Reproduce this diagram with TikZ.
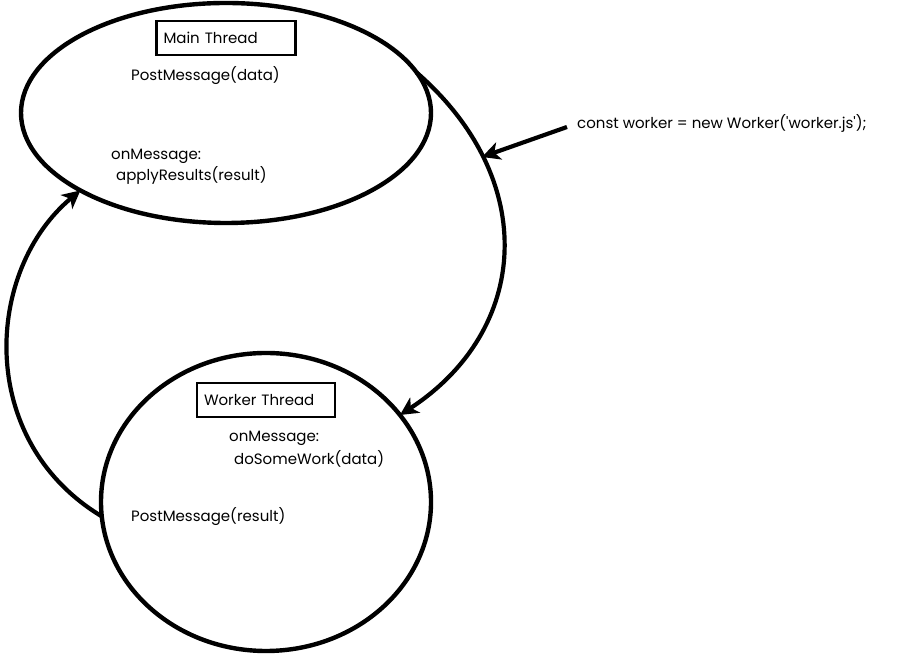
\documentclass[tikz,border=0pt]{standalone}
\usepackage{fontspec}
\setmainfont{Poppins}[Ligatures=TeXOff]
\usetikzlibrary{shapes.geometric,arrows.meta}
\begin{document}
\begin{tikzpicture}[x=1pt,y=1pt,
  bubble/.style={draw,ellipse,line width=4.4pt,inner sep=0pt,outer sep=0pt},
  titlebox/.style={draw,rectangle,line width=2.6pt,inner sep=0pt,minimum height=34pt,font=\fontsize{15}{18}\selectfont},
  lbl/.style={anchor=west,inner sep=0pt,font=\fontsize{15}{18}\selectfont},
  conn/.style={line width=4.2pt,-{Stealth[length=18pt,width=18pt,inset=5pt]}}]
\useasboundingbox (0,0) rectangle (900,655);
\node[bubble,minimum width=410pt,minimum height=220pt] (main) at (226,542) {};
\node[bubble,minimum width=330pt,minimum height=298pt] (worker) at (266,153) {};
\node[titlebox,minimum width=139pt,text width=125pt,align=left] (mainbox) at (226,617) {Main Thread};
\node[titlebox,minimum width=138pt,text width=124pt,align=left] (workerbox) at (266,255) {Worker Thread};
\node[lbl] (pmdata) at (131,579) {PostMessage(data)};
\node[lbl] (onmsg1) at (111,499) {onMessage:};
\node[lbl] (apply) at (116,480) {applyResults(result)};
\node[lbl] (onmsg2) at (229,217) {onMessage:};
\node[lbl] (dowork) at (234,196) {doSomeWork(data)};
\node[lbl] (pmres) at (131,138) {PostMessage(result)};
\node[lbl] (code) at (577,532) {const worker = new Worker('worker.js');};
\coordinate (hit) at (482,498);
\draw[conn] (main.12) .. controls (540,475) and (530,325) .. (worker.33);
\draw[conn] (worker.185) .. controls (-25,215) and (-15,385) .. (main.208);
\draw[conn] (code.west) ++(-10,-4) -- (hit);
\end{tikzpicture}
\end{document}
